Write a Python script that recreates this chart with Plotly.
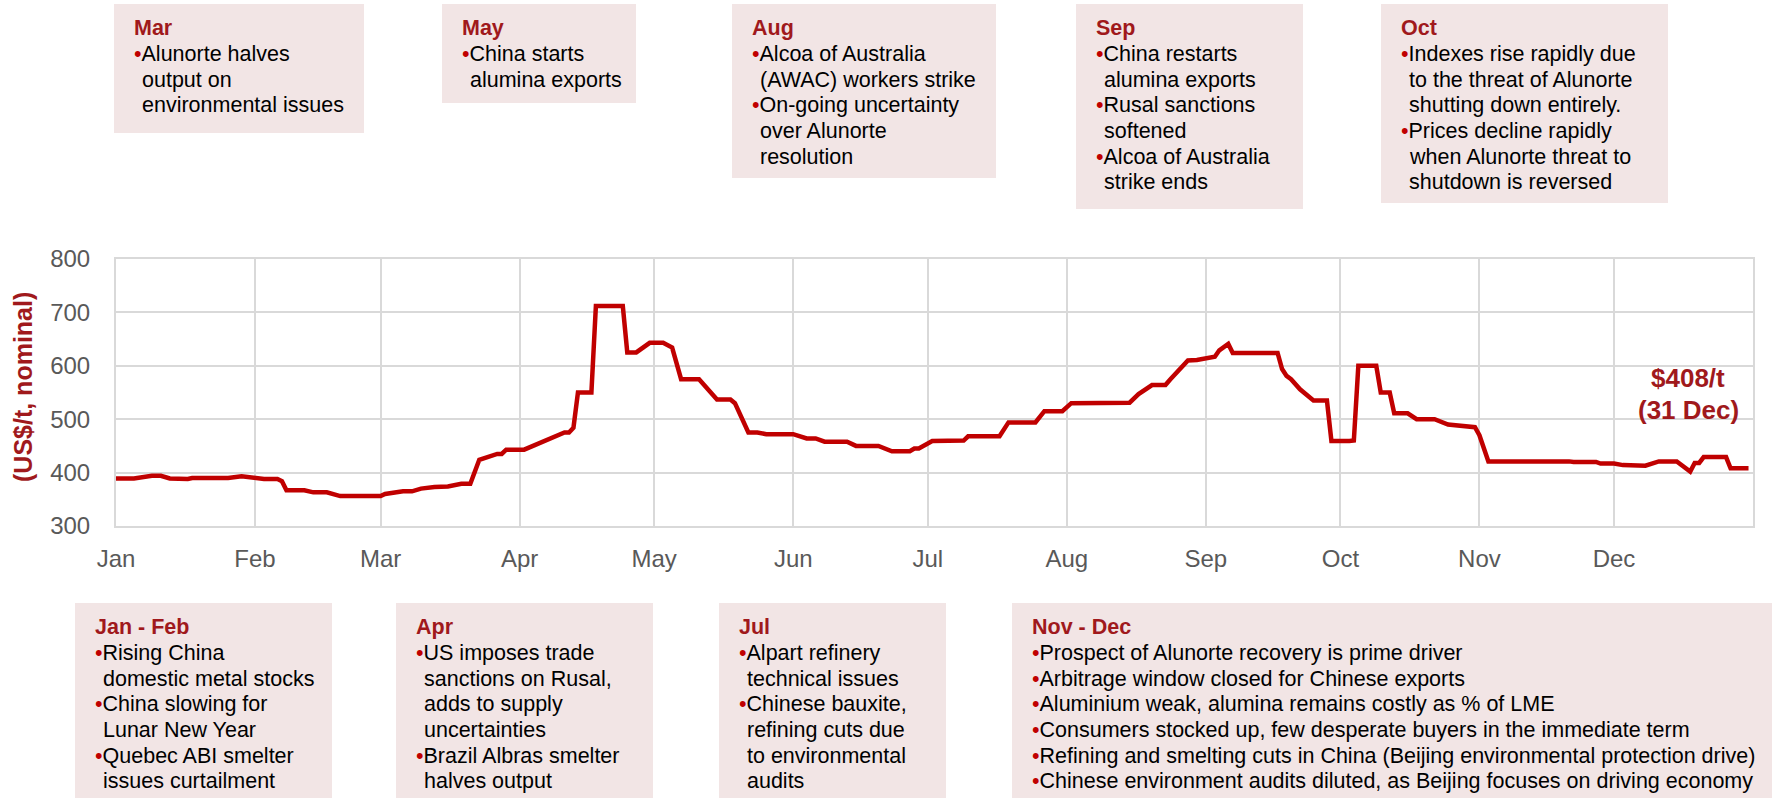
import plotly.graph_objects as go

# ---------------- data ----------------
dates = [
    "2018-01-01", "2018-01-05", "2018-01-09", "2018-01-11", "2018-01-13", "2018-01-17", "2018-01-18",
    "2018-01-26", "2018-01-29", "2018-02-03", "2018-02-06", "2018-02-07", "2018-02-08", "2018-02-12",
    "2018-02-14", "2018-02-17", "2018-02-20", "2018-03-01", "2018-03-02", "2018-03-06", "2018-03-08",
    "2018-03-10", "2018-03-13", "2018-03-16", "2018-03-19", "2018-03-21", "2018-03-23", "2018-03-24",
    "2018-03-27", "2018-03-28", "2018-03-29", "2018-04-02", "2018-04-04", "2018-04-05", "2018-04-07",
    "2018-04-09", "2018-04-11", "2018-04-12", "2018-04-13", "2018-04-14", "2018-04-17", "2018-04-18",
    "2018-04-24", "2018-04-25", "2018-04-27", "2018-04-30", "2018-05-03", "2018-05-05", "2018-05-07",
    "2018-05-11", "2018-05-15", "2018-05-18", "2018-05-19", "2018-05-22", "2018-05-24", "2018-05-26",
    "2018-06-01", "2018-06-04", "2018-06-06", "2018-06-08", "2018-06-13", "2018-06-15", "2018-06-20",
    "2018-06-23", "2018-06-27", "2018-06-28", "2018-06-29", "2018-07-02", "2018-07-09", "2018-07-10",
    "2018-07-17", "2018-07-19", "2018-07-25", "2018-07-27", "2018-07-31", "2018-08-02", "2018-08-08",
    "2018-08-15", "2018-08-17", "2018-08-20", "2018-08-23", "2018-08-24", "2018-08-28", "2018-08-30",
    "2018-09-03", "2018-09-04", "2018-09-06", "2018-09-07", "2018-09-17", "2018-09-18", "2018-09-19",
    "2018-09-20", "2018-09-22", "2018-09-25", "2018-09-28", "2018-09-29", "2018-10-03", "2018-10-04",
    "2018-10-05", "2018-10-09", "2018-10-10", "2018-10-12", "2018-10-13", "2018-10-16", "2018-10-18",
    "2018-10-22", "2018-10-25", "2018-10-27", "2018-10-31", "2018-11-01", "2018-11-03", "2018-11-21",
    "2018-11-22", "2018-11-27", "2018-11-28", "2018-12-01", "2018-12-03", "2018-12-08", "2018-12-11",
    "2018-12-15", "2018-12-18", "2018-12-19", "2018-12-20", "2018-12-21", "2018-12-26", "2018-12-27",
    "2018-12-31",
]
prices = [
    389, 389, 394, 394, 389, 388, 390,
    390, 393, 388, 388, 384, 367, 367,
    363, 363, 356, 356, 360, 365, 365,
    370, 373, 374, 379, 379, 424, 427,
    435, 435, 443, 443, 450, 453, 461,
    469, 475, 475, 484, 550, 550, 712,
    712, 625, 625, 643, 643, 634, 575,
    575, 537, 537, 530, 475, 475, 472,
    472, 464, 464, 458, 458, 450, 450,
    440, 440, 445, 445, 459, 460, 468,
    468, 494, 494, 515, 515, 530, 531,
    531, 547, 564, 564, 574, 610, 611,
    617, 629, 641, 624, 624, 594, 581,
    575, 556, 535, 535, 459, 459, 460,
    600, 600, 550, 550, 511, 511, 500,
    500, 490, 489, 485, 470, 421, 421,
    420, 420, 417, 417, 414, 413, 421,
    421, 402, 418, 418, 429, 429, 408,
    408,
]

month_ticks = ["2018-01-01", "2018-02-01", "2018-03-01", "2018-04-01", "2018-05-01", "2018-06-01",
               "2018-07-01", "2018-08-01", "2018-09-01", "2018-10-01", "2018-11-01", "2018-12-01"]
month_labels = ["Jan", "Feb", "Mar", "Apr", "May", "Jun", "Jul", "Aug", "Sep", "Oct", "Nov", "Dec"]
y_ticks = [300, 400, 500, 600, 700, 800]

y_title = "(US$/t, nominal)"
end_label = ["$408/t", "(31 Dec)"]

event_titles = ["Mar", "May", "Aug", "Sep", "Oct", "Jan - Feb", "Apr", "Jul", "Nov - Dec"]
event_bullets = [
    [["Alunorte halves", "output on", "environmental issues"]],
    [["China starts", "alumina exports"]],
    [["Alcoa of Australia", "(AWAC) workers strike"], ["On-going uncertainty", "over Alunorte", "resolution"]],
    [["China restarts", "alumina exports"], ["Rusal sanctions", "softened"], ["Alcoa of Australia", "strike ends"]],
    [["Indexes rise rapidly due", "to the threat of Alunorte", "shutting down entirely."],
     ["Prices decline rapidly", "when Alunorte threat to", "shutdown is reversed"]],
    [["Rising China", "domestic metal stocks"], ["China slowing for", "Lunar New Year"],
     ["Quebec ABI smelter", "issues curtailment"]],
    [["US imposes trade", "sanctions on Rusal,", "adds to supply", "uncertainties"],
     ["Brazil Albras smelter", "halves output"]],
    [["Alpart refinery", "technical issues"], ["Chinese bauxite,", "refining cuts due", "to environmental", "audits"]],
    [["Prospect of Alunorte recovery is prime driver"], ["Arbitrage window closed for Chinese exports"],
     ["Aluminium weak, alumina remains costly as % of LME"],
     ["Consumers stocked up, few desperate buyers in the immediate term"],
     ["Refining and smelting cuts in China (Beijing environmental protection drive)"],
     ["Chinese environment audits diluted, as Beijing focuses on driving economy"]],
]

# ---------------- geometry / style ----------------
W, H = 1775, 801
PL, PR, PT, PB = 116, 1753, 259, 526
box_px = [(114, 364, 4, 133), (442, 636, 4, 103), (732, 996, 4, 178), (1076, 1303, 4, 209),
          (1381, 1668, 4, 203), (75, 332, 603, 798), (396, 653, 603, 798), (719, 946, 603, 798),
          (1012, 1772, 603, 798)]

FONT = "Liberation Sans, Arial, sans-serif"
DARK_RED = "#A0191C"
LINE_RED = "#C00000"
BOX_FILL = "#F2E5E5"
GRID = "#D9D9D9"
TXT = 21.5
LINE_H = 25.6
BULLET_W = 7.5


def px(xp):
    return (xp - PL) / (PR - PL)


def py(yp):
    return (PB - yp) / (PB - PT)


fig = go.Figure()
fig.add_trace(go.Scatter(x=dates, y=prices, mode="lines",
                         line=dict(color=LINE_RED, width=4.5), hoverinfo="x+y"))

shapes = []
annotations = []

for (x0, x1, y0, y1), title, bullets in zip(box_px, event_titles, event_bullets):
    shapes.append(dict(type="rect", xref="paper", yref="paper", x0=px(x0), x1=px(x1),
                       y0=py(y1), y1=py(y0), fillcolor=BOX_FILL, line=dict(width=0), layer="below"))
    tx = x0 + 19
    ty = y0 + 23.5
    annotations.append(dict(xref="paper", yref="paper", x=px(tx), y=py(ty), xanchor="left",
                            yanchor="middle", showarrow=False, borderpad=0,
                            text="<b>%s</b>" % title,
                            font=dict(family=FONT, size=TXT, color=DARK_RED)))
    k = 1
    for item in bullets:
        for j, line in enumerate(item):
            if j == 0:
                text = "<span style='color:%s'>•</span>%s" % (LINE_RED, line)
                xx = tx
            else:
                text = line
                xx = tx + BULLET_W
            annotations.append(dict(xref="paper", yref="paper", x=px(xx), y=py(ty + 1 + LINE_H * k),
                                    xanchor="left", yanchor="middle", showarrow=False, borderpad=0,
                                    text=text, font=dict(family=FONT, size=TXT, color="#000000")))
            k += 1

# y-axis title
annotations.append(dict(xref="paper", yref="paper", x=px(23), y=py(387), xanchor="center",
                        yanchor="middle", showarrow=False, textangle=-90,
                        text="<b>%s</b>" % y_title,
                        font=dict(family=FONT, size=25, color=DARK_RED)))
# end label
for txt, yy in zip(end_label, [378, 410]):
    annotations.append(dict(xref="paper", yref="paper", x=px(1688), y=py(yy), xanchor="center",
                            yanchor="middle", showarrow=False, borderpad=0,
                            text="<b>%s</b>" % txt,
                            font=dict(family=FONT, size=26, color=DARK_RED)))

fig.update_layout(
    width=W, height=H, autosize=False,
    margin=dict(l=PL, r=W - PR, t=PT, b=H - PB, pad=0),
    paper_bgcolor="white", plot_bgcolor="white",
    showlegend=False,
    shapes=shapes, annotations=annotations,
    font=dict(family=FONT),
    xaxis=dict(type="date", range=["2018-01-01", "2019-01-01"], tickvals=month_ticks,
               ticktext=month_labels, showgrid=True, gridcolor=GRID, gridwidth=2,
               showline=True, mirror=True, linecolor=GRID, linewidth=2, zeroline=False,
               ticks="", ticklabelstandoff=10,
               tickfont=dict(family=FONT, size=24, color="#595959")),
    yaxis=dict(range=[300, 800], tickvals=y_ticks, showgrid=True, gridcolor=GRID, gridwidth=2,
               showline=True, mirror=True, linecolor=GRID, linewidth=2, zeroline=False,
               ticks="", ticklabelstandoff=19,
               tickfont=dict(family=FONT, size=24, color="#595959")),
)

fig.write_html("out.html", config={"displayModeBar": False},
               post_script="document.body.style.margin='0px';document.body.style.overflow='hidden';")
